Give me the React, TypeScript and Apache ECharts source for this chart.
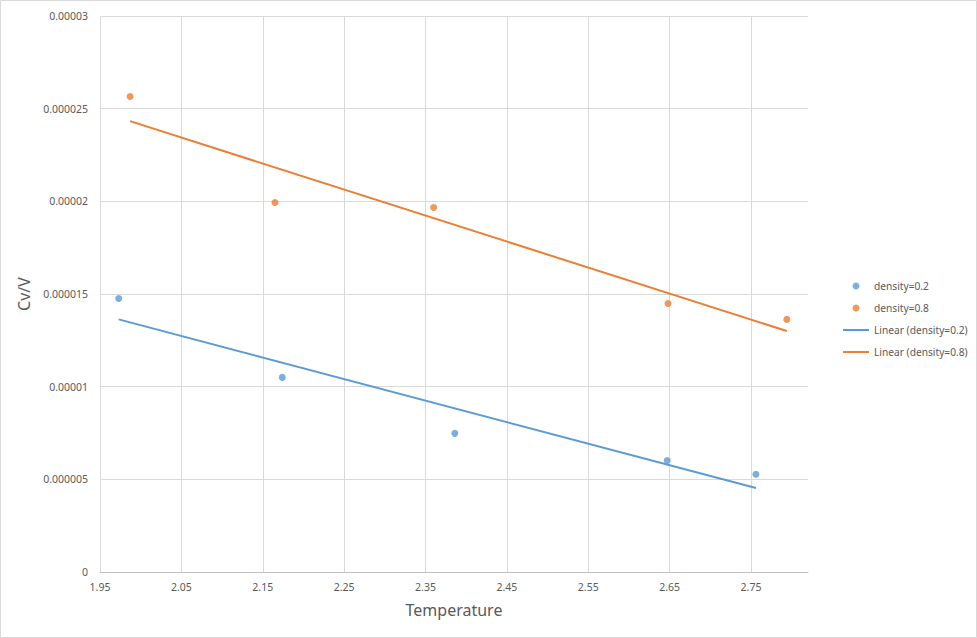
import React, { useEffect, useRef } from "react";
import * as echarts from "echarts";

const seriesNames = ["density=0.2", "density=0.8"];
const trendNames = ["Linear (density=0.2)", "Linear (density=0.8)"];
const density02: [number, number][] = [
  [1.973, 0.00001476],
  [2.174, 0.0000105],
  [2.386, 0.00000748],
  [2.647, 0.00000602],
  [2.756, 0.00000527],
];
const density08: [number, number][] = [
  [1.987, 0.00002566],
  [2.165, 0.00001994],
  [2.36, 0.00001967],
  [2.648, 0.00001449],
  [2.794, 0.00001363],
];
const trend02: [number, number][] = [
  [1.973, 0.00001363],
  [2.756, 0.00000453],
];
const trend08: [number, number][] = [
  [1.987, 0.00002433],
  [2.794, 0.000013],
];
const xRange = [1.95, 2.82];
const yRange = [0, 0.00003];

const FONT = "'Noto Sans', 'Open Sans', sans-serif";
const BLUE = "#5B9BD5";
const ORANGE = "#ED7D31";
const TEXT = "#595959";

export default function App() {
  const ref = useRef<HTMLDivElement>(null);
  useEffect(() => {
    if (!ref.current) return;
    const chart = echarts.init(ref.current, undefined, { renderer: "svg" });
    chart.setOption({
      animation: false,
      backgroundColor: "#ffffff",
      textStyle: { fontFamily: FONT },
      graphic: [
        {
          type: "rect",
          shape: { x: 0.5, y: 0.5, width: 976, height: 637 },
          style: { fill: "none", stroke: "#d9d9d9", lineWidth: 1 },
          silent: true,
        },
      ],
      grid: { left: 100, right: 169, top: 16, bottom: 66, containLabel: false },
      legend: {
        orient: "vertical",
        left: 837,
        top: 276,
        itemWidth: 26,
        itemHeight: 7,
        itemGap: 12,
        textStyle: { fontFamily: FONT, fontSize: 10.2, color: TEXT },
        data: [
          { name: seriesNames[0], icon: "circle" },
          { name: seriesNames[1], icon: "circle" },
          { name: trendNames[0], itemStyle: { opacity: 0 } },
          { name: trendNames[1], itemStyle: { opacity: 0 } },
        ],
      },
      xAxis: {
        type: "value",
        min: xRange[0],
        max: xRange[1],
        interval: 0.1,
        name: "Temperature",
        nameLocation: "middle",
        nameGap: 30,
        nameTextStyle: { fontFamily: FONT, fontSize: 16, color: TEXT },
        axisLine: { show: true, lineStyle: { color: "#bfbfbf", width: 1 } },
        axisTick: { show: false },
        axisLabel: {
          fontFamily: FONT,
          fontSize: 10.5,
          color: TEXT,
          margin: 9,
          showMaxLabel: false,
          formatter: (v: number) => v.toFixed(2),
        },
        splitLine: { show: true, showMaxLine: false, lineStyle: { color: "#d9d9d9", width: 1 } },
      },
      yAxis: {
        type: "value",
        min: yRange[0],
        max: yRange[1],
        interval: 0.000005,
        name: "Cv/V",
        nameLocation: "middle",
        nameGap: 59,
        nameTextStyle: { fontFamily: FONT, fontSize: 16, color: TEXT },
        axisLine: { show: false },
        axisTick: { show: false },
        axisLabel: {
          fontFamily: FONT,
          fontSize: 10.5,
          color: TEXT,
          margin: 12,
          formatter: (v: number) =>
            v === 0 ? "0" : v.toFixed(6).replace(/0+$/, "").replace(/\.$/, ""),
        },
        splitLine: { show: true, lineStyle: { color: "#d9d9d9", width: 1 } },
      },
      series: [
        {
          name: trendNames[0],
          type: "line",
          data: trend02,
          symbol: "none",
          lineStyle: { color: BLUE, width: 2 },
          itemStyle: { color: BLUE },
          z: 2,
        },
        {
          name: trendNames[1],
          type: "line",
          data: trend08,
          symbol: "none",
          lineStyle: { color: ORANGE, width: 2 },
          itemStyle: { color: ORANGE },
          z: 2,
        },
        {
          name: seriesNames[0],
          type: "scatter",
          data: density02,
          symbol: "circle",
          symbolSize: 7,
          itemStyle: { color: BLUE },
          z: 3,
        },
        {
          name: seriesNames[1],
          type: "scatter",
          data: density08,
          symbol: "circle",
          symbolSize: 7,
          itemStyle: { color: ORANGE },
          z: 3,
        },
      ],
    });
    return () => chart.dispose();
  }, []);
  return (
    <div
      ref={ref}
      style={{ position: "fixed", left: 0, top: 0, width: 977, height: 638 }}
    />
  );
}
